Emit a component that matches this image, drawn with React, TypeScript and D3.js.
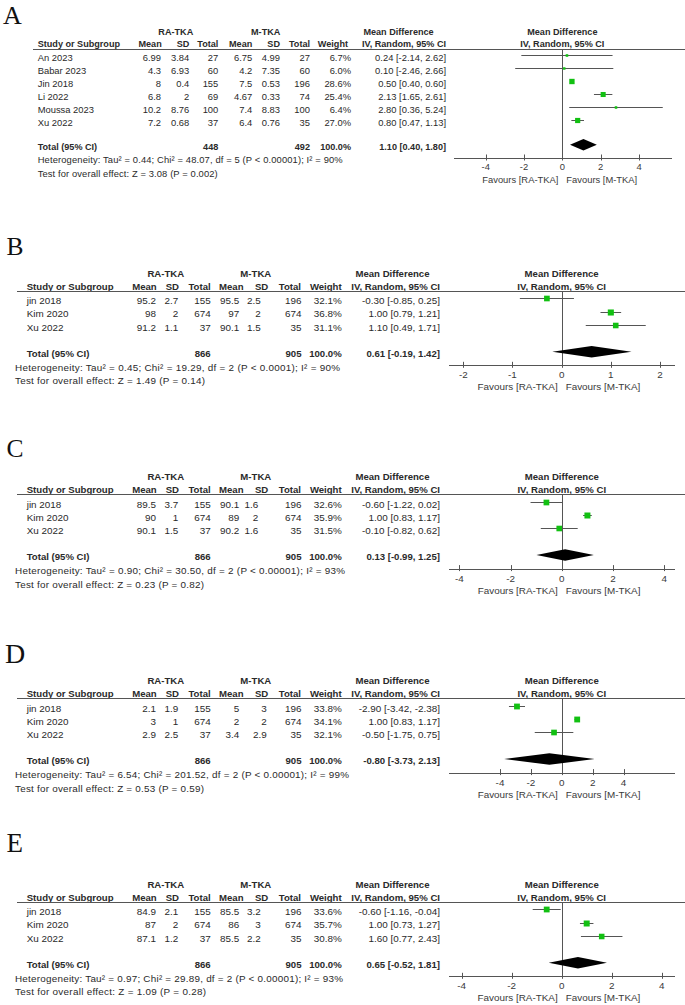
import React from 'react';
import * as d3 from 'd3';

// ---------------- Panel A data ----------------
const studiesA = ['An 2023', 'Babar 2023', 'Jin 2018', 'Li 2022', 'Moussa 2023', 'Xu 2022'];
const raMeanA = [6.99, 4.3, 8, 6.8, 10.2, 7.2];
const raSdA = [3.84, 6.93, 0.4, 2, 8.76, 0.68];
const raTotalA = [27, 60, 155, 69, 100, 37];
const mMeanA = [6.75, 4.2, 7.5, 4.67, 7.4, 6.4];
const mSdA = [4.99, 7.35, 0.53, 0.33, 8.83, 0.76];
const mTotalA = [27, 60, 196, 74, 100, 35];
const weightA = [6.7, 6.0, 28.6, 25.4, 6.4, 27.0];
const mdA = [0.24, 0.1, 0.5, 2.13, 2.8, 0.8];
const loA = [-2.14, -2.46, 0.4, 1.65, 0.36, 0.47];
const hiA = [2.62, 2.66, 0.6, 2.61, 5.24, 1.13];
const pooledA = [1.1, 0.4, 1.8];
const sumTotalsA = [448, 492];
const hetA = 'Heterogeneity: Tau² = 0.44; Chi² = 48.07, df = 5 (P < 0.00001); I² = 90%';
const testA = 'Test for overall effect: Z = 3.08 (P = 0.002)';
const ticksA = [-4, -2, 0, 2, 4];

// ---------------- Panel B data ----------------
const studiesB = ['jin 2018', 'Kim 2020', 'Xu 2022'];
const raMeanB = [95.2, 98, 91.2];
const raSdB = [2.7, 2, 1.1];
const raTotalB = [155, 674, 37];
const mMeanB = [95.5, 97, 90.1];
const mSdB = [2.5, 2, 1.5];
const mTotalB = [196, 674, 35];
const weightB = [32.1, 36.8, 31.1];
const mdB = [-0.3, 1.0, 1.1];
const loB = [-0.85, 0.79, 0.49];
const hiB = [0.25, 1.21, 1.71];
const pooledB = [0.61, -0.19, 1.42];
const sumTotalsB = [866, 905];
const hetB = 'Heterogeneity: Tau² = 0.45; Chi² = 19.29, df = 2 (P < 0.0001); I² = 90%';
const testB = 'Test for overall effect: Z = 1.49 (P = 0.14)';
const ticksB = [-2, -1, 0, 1, 2];

// ---------------- Panel C data ----------------
const studiesC = ['jin 2018', 'Kim 2020', 'Xu 2022'];
const raMeanC = [89.5, 90, 90.1];
const raSdC = [3.7, 1, 1.5];
const raTotalC = [155, 674, 37];
const mMeanC = [90.1, 89, 90.2];
const mSdC = [1.6, 2, 1.6];
const mTotalC = [196, 674, 35];
const weightC = [32.6, 35.9, 31.5];
const mdC = [-0.6, 1.0, -0.1];
const loC = [-1.22, 0.83, -0.82];
const hiC = [0.02, 1.17, 0.62];
const pooledC = [0.13, -0.99, 1.25];
const sumTotalsC = [866, 905];
const hetC = 'Heterogeneity: Tau² = 0.90; Chi² = 30.50, df = 2 (P < 0.00001); I² = 93%';
const testC = 'Test for overall effect: Z = 0.23 (P = 0.82)';
const ticksC = [-4, -2, 0, 2, 4];

// ---------------- Panel D data ----------------
const studiesD = ['jin 2018', 'Kim 2020', 'Xu 2022'];
const raMeanD = [2.1, 3, 2.9];
const raSdD = [1.9, 1, 2.5];
const raTotalD = [155, 674, 37];
const mMeanD = [5, 2, 3.4];
const mSdD = [3, 2, 2.9];
const mTotalD = [196, 674, 35];
const weightD = [33.8, 34.1, 32.1];
const mdD = [-2.9, 1.0, -0.5];
const loD = [-3.42, 0.83, -1.75];
const hiD = [-2.38, 1.17, 0.75];
const pooledD = [-0.8, -3.73, 2.13];
const sumTotalsD = [866, 905];
const hetD = 'Heterogeneity: Tau² = 6.54; Chi² = 201.52, df = 2 (P < 0.00001); I² = 99%';
const testD = 'Test for overall effect: Z = 0.53 (P = 0.59)';
const ticksD = [-4, -2, 0, 2, 4];

// ---------------- Panel E data ----------------
const studiesE = ['jin 2018', 'Kim 2020', 'Xu 2022'];
const raMeanE = [84.9, 87, 87.1];
const raSdE = [2.1, 2, 1.2];
const raTotalE = [155, 674, 37];
const mMeanE = [85.5, 86, 85.5];
const mSdE = [3.2, 3, 2.2];
const mTotalE = [196, 674, 35];
const weightE = [33.6, 35.7, 30.8];
const mdE = [-0.6, 1.0, 1.6];
const loE = [-1.16, 0.73, 0.77];
const hiE = [-0.04, 1.27, 2.43];
const pooledE = [0.65, -0.52, 1.81];
const sumTotalsE = [866, 905];
const hetE = 'Heterogeneity: Tau² = 0.97; Chi² = 29.89, df = 2 (P < 0.00001); I² = 93%';
const testE = 'Test for overall effect: Z = 1.09 (P = 0.28)';
const ticksE = [-4, -2, 0, 2, 4];

const groupLabels = ['RA-TKA', 'M-TKA'];
const colHeaders = ['Mean', 'SD', 'Total', 'Mean', 'SD', 'Total', 'Weight'];
const favourLabels = ['Favours [RA-TKA]', 'Favours [M-TKA]'];

const panelsData = [
  { letter: 'A', studies: studiesA, cols: [raMeanA, raSdA, raTotalA, mMeanA, mSdA, mTotalA], weight: weightA, md: mdA, lo: loA, hi: hiA, pooled: pooledA, totals: sumTotalsA, het: hetA, test: testA, ticks: ticksA },
  { letter: 'B', studies: studiesB, cols: [raMeanB, raSdB, raTotalB, mMeanB, mSdB, mTotalB], weight: weightB, md: mdB, lo: loB, hi: hiB, pooled: pooledB, totals: sumTotalsB, het: hetB, test: testB, ticks: ticksB },
  { letter: 'C', studies: studiesC, cols: [raMeanC, raSdC, raTotalC, mMeanC, mSdC, mTotalC], weight: weightC, md: mdC, lo: loC, hi: hiC, pooled: pooledC, totals: sumTotalsC, het: hetC, test: testC, ticks: ticksC },
  { letter: 'D', studies: studiesD, cols: [raMeanD, raSdD, raTotalD, mMeanD, mSdD, mTotalD], weight: weightD, md: mdD, lo: loD, hi: hiD, pooled: pooledD, totals: sumTotalsD, het: hetD, test: testD, ticks: ticksD },
  { letter: 'E', studies: studiesE, cols: [raMeanE, raSdE, raTotalE, mMeanE, mSdE, mTotalE], weight: weightE, md: mdE, lo: loE, hi: hiE, pooled: pooledE, totals: sumTotalsE, het: hetE, test: testE, ticks: ticksE },
];

// ---------------- layout ----------------
const layoutA = {
  fs: 9.1, fsN: 9.4, letterX: 3, letterY: 23.5, letterSize: 26,
  nameX: 37.7, hetX: 37.7, lineX0: 33, hetW: 305, testW: 180,
  hdrRight: [161.7, 189.3, 218.3, 252.3, 280, 310, 348],
  valRight: [161, 189.3, 218.3, 252.3, 280, 310, 351],
  groupCenter: [175.8, 265.7], ciRight: 446,
  uy: 49, grpY: 32, hdrY: 44, row0: 57.3, step: 13, totalY: 146.7, hetY: 160, testY: 173.3,
  axisY: 158, tickY: 166.5, favY: 180,
  tickRange: [485.7, 639], axisX: [454, 672],
};
const baseBE = {
  fs: 9.6, fsN: 9.9, nameX: 26.7, hetX: 15, lineX0: 17,
  hdrRight: [156.7, 179, 210.7, 243.5, 268.3, 301, 341.7],
  groupCenter: [165.8, 255.8], ciRight: 440, axisX: [449, 675],
};
function makeLayout(uy: number, extra: any) {
  return {
    ...baseBE,
    uy, grpY: uy - 17.7, hdrY: uy - 4.3, row0: uy + 9.8, step: 13.2,
    totalY: uy + 62.7, hetY: uy + 76.5, testY: uy + 89.8,
    axisY: uy + 74.3, tickY: uy + 84, favY: uy + 96,
    ...extra,
  };
}
const layouts = [
  layoutA,
  makeLayout(291, { letterX: 6.5, letterY: 255, letterSize: 25.5, hetW: 325, testW: 190, valRight: [156, 178.3, 210.7, 239.3, 260.7, 301.5, 341.7], tickRange: [463.3, 660] }),
  makeLayout(494.3, { letterX: 6.5, letterY: 456.7, letterSize: 25.5, hetW: 330, testW: 189, valRight: [156, 178.3, 210.7, 239.3, 258.3, 301.5, 341.7], tickRange: [459.3, 664.3] }),
  makeLayout(698.3, { letterX: 5, letterY: 663.3, letterSize: 28, hetW: 334, testW: 189, valRight: [156, 178.3, 210.7, 239.3, 266.7, 301.5, 341.7], tickRange: [500, 623.5] }),
  makeLayout(902, { letterX: 6.5, letterY: 851.7, letterSize: 27, hetW: 328, testW: 191, valRight: [156, 178.3, 210.7, 239.3, 260.7, 301.5, 341.7], tickRange: [461.7, 661.7] }),
];

const FONT = '"Liberation Sans", Arial, Helvetica, sans-serif';
const TXT = '#2a2a2a';
const LINE = '#555';
const GREEN = '#12c012';

const f2 = (v: number) => v.toFixed(2);
const ciText = (m: number, l: number, h: number) => `${f2(m)} [${f2(l)}, ${f2(h)}]`;

function PanelView({ d, L }: { d: any; L: any }) {
  const fs = L.fs;
  const fsN = L.fsN;
  const bl = (y: number) => y + fs * 0.36;
  const x = d3.scaleLinear().domain([d.ticks[0], d.ticks[d.ticks.length - 1]]).range(L.tickRange);
  const z = x(0);
  const markY = (y: number) => Math.round(y - 2.5) + 0.5;
  const sizeScale = d3.scaleSqrt().domain([0, 100]).range([0, 10]);
  const bold = { fontWeight: 700 } as any;
  const ciR = L.ciRight;
  const mdHdrCenter = ciR - 47.5;
  const totY = L.totalY;
  const dY = totY - 2;
  const dh = 5.8;
  const [pm, pl, ph] = d.pooled;
  return (
    <g fontFamily={FONT} fontSize={fs} fill={TXT}>
      <text x={L.letterX} y={L.letterY} fontFamily='"Liberation Serif", "Times New Roman", serif' fontSize={L.letterSize} fill="#111">
        {d.letter}
      </text>
      {/* group headers */}
      <text x={L.groupCenter[0]} y={bl(L.grpY)} textAnchor="middle" style={bold}>{groupLabels[0]}</text>
      <text x={L.groupCenter[1]} y={bl(L.grpY)} textAnchor="middle" style={bold}>{groupLabels[1]}</text>
      <text x={mdHdrCenter} y={bl(L.grpY)} textAnchor="middle" style={bold}>Mean Difference</text>
      <text x={z} y={bl(L.grpY)} textAnchor="middle" style={bold}>Mean Difference</text>
      {/* column headers */}
      <text x={L.nameX} y={bl(L.hdrY)} style={bold}>Study or Subgroup</text>
      {colHeaders.map((h, i) => (
        <text key={i} x={L.hdrRight[i]} y={bl(L.hdrY)} textAnchor="end" style={bold}>{h}</text>
      ))}
      <text x={ciR} y={bl(L.hdrY)} textAnchor="end" style={bold}>IV, Random, 95% CI</text>
      <text x={z} y={bl(L.hdrY)} textAnchor="middle" style={bold}>IV, Random, 95% CI</text>
      <line x1={L.lineX0} x2={685} y1={Math.round(L.uy) + 0.5} y2={Math.round(L.uy) + 0.5} stroke={LINE} strokeWidth={1} />
      {/* study rows */}
      <g fontSize={fsN}>
        {d.studies.map((s: string, i: number) => {
          const y = L.row0 + i * L.step;
          const my = markY(y);
          const side = sizeScale(d.weight[i]);
          return (
            <g key={s}>
              <text x={L.nameX} y={bl(y)}>{s}</text>
              {d.cols.map((col: number[], j: number) => (
                <text key={j} x={L.valRight[j]} y={bl(y)} textAnchor="end">{String(col[i])}</text>
              ))}
              <text x={L.valRight[6]} y={bl(y)} textAnchor="end">{d.weight[i].toFixed(1) + '%'}</text>
              <text x={ciR} y={bl(y)} textAnchor="end">{ciText(d.md[i], d.lo[i], d.hi[i])}</text>
              <line x1={x(d.lo[i])} x2={x(d.hi[i])} y1={my} y2={my} stroke={LINE} strokeWidth={1} />
              <rect x={x(d.md[i]) - side / 2} y={my - side / 2} width={side} height={side} fill={GREEN} />
            </g>
          );
        })}
      </g>
      {/* total row */}
      <text x={L.nameX} y={bl(totY)} style={bold}>Total (95% CI)</text>
      <text x={L.valRight[2]} y={bl(totY)} textAnchor="end" style={bold}>{d.totals[0]}</text>
      <text x={L.valRight[5]} y={bl(totY)} textAnchor="end" style={bold}>{d.totals[1]}</text>
      <text x={L.valRight[6]} y={bl(totY)} textAnchor="end" style={bold}>100.0%</text>
      <text x={ciR} y={bl(totY)} textAnchor="end" style={bold}>{ciText(pm, pl, ph)}</text>
      <text x={L.hetX} y={bl(L.hetY)} fontSize={fsN} textLength={L.hetW} lengthAdjust="spacing">{d.het}</text>
      <text x={L.hetX} y={bl(L.testY)} fontSize={fsN} textLength={L.testW} lengthAdjust="spacing">{d.test}</text>
      {/* zero line */}
      <line x1={Math.round(z) + 0.5} x2={Math.round(z) + 0.5} y1={L.uy} y2={L.axisY} stroke={LINE} strokeWidth={1} />
      {/* diamond */}
      <path d={`M${x(pl)},${dY} L${x(pm)},${dY - dh} L${x(ph)},${dY} L${x(pm)},${dY + dh} Z`} fill="#000" />
      {/* axis */}
      <line x1={L.axisX[0]} x2={L.axisX[1]} y1={Math.round(L.axisY) + 0.5} y2={Math.round(L.axisY) + 0.5} stroke={LINE} strokeWidth={1} />
      {d.ticks.map((t: number) => (
        <g key={t}>
          <line x1={Math.round(x(t)) + 0.5} x2={Math.round(x(t)) + 0.5} y1={L.axisY - 3.5} y2={L.axisY + 2.5} stroke={LINE} strokeWidth={1} />
          <text x={x(t)} y={bl(L.tickY)} textAnchor="middle" fill="#3a3a3a" fontSize={fsN}>{String(t)}</text>
        </g>
      ))}
      <text x={z - 4} y={bl(L.favY)} textAnchor="end" fill="#3a3a3a" fontSize={fsN}>{favourLabels[0]}</text>
      <text x={z + 4} y={bl(L.favY)} textAnchor="start" fill="#3a3a3a" fontSize={fsN}>{favourLabels[1]}</text>
    </g>
  );
}

export default function App() {
  return (
    <svg
      width={685}
      height={1005}
      viewBox="0 0 685 1005"
      style={{ position: 'absolute', left: 0, top: 0, background: '#fff' }}
    >
      <rect x={0} y={0} width={685} height={1005} fill="#fff" />
      {panelsData.map((d, i) => (
        <PanelView key={d.letter} d={d} L={layouts[i]} />
      ))}
    </svg>
  );
}
